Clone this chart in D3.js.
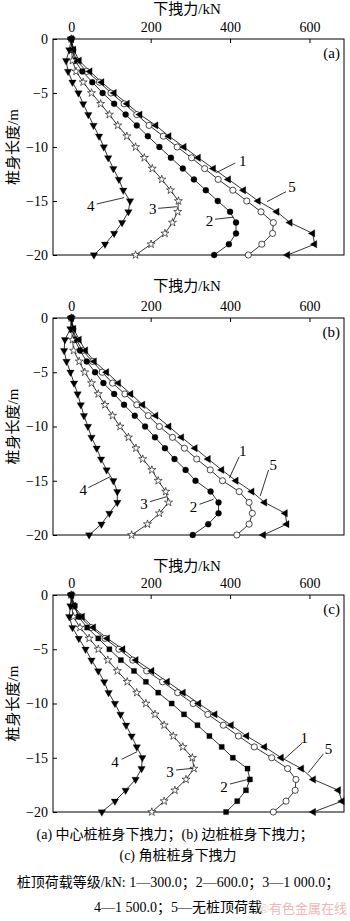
<!DOCTYPE html>
<html><head><meta charset="utf-8">
<script src="https://cdn.jsdelivr.net/npm/d3@7"></script>
<style>
html,body{margin:0;padding:0;background:#fff;}
svg{display:block;}
</style></head>
<body><svg id="chart" width="350" height="921"></svg>
<script>
// Depth below pile head (m), one reading per metre
const depth = [0,-1,-2,-3,-4,-5,-6,-7,-8,-9,-10,-11,-12,-13,-14,-15,-16,-17,-18,-19,-20];
const xTicks = [0,200,400,600];
const yTicks = [0,-5,-10,-15,-20];
const seriesNames = ["1","2","3","4","5"];
const panelTags = ["(a)","(b)","(c)"];

// (a) centre pile – downdrag force (kN) per series
const a1 = [0,4,13,39,71,100,133,165,196,232,267,303,336,370,407,442,478,509,507,480,446];
const a2 = [0,3,9,28,53,79,108,137,165,193,222,251,281,309,339,369,400,415,415,397,360];
const a3 = [0,1,3,12,30,51,74,96,117,140,162,184,204,228,250,270,268,255,236,201,162];
const a4 = [0,-5,-13,-8,3,18,30,43,56,70,82,93,106,120,131,148,144,128,108,85,57];
const a5 = [0,6,20,47,77,108,141,173,213,246,284,320,358,396,434,471,518,551,608,613,545];

// (b) edge pile
const b1 = [0,4,13,28,54,78,104,135,165,194,222,255,285,316,350,381,423,448,456,448,417];
const b2 = [0,3,9,22,39,60,81,108,133,160,186,211,236,260,288,313,351,371,371,345,306];
const b3 = [0,1,3,6,20,34,51,68,85,104,123,144,163,180,203,219,238,245,222,192,152];
const b4 = [0,-2,-16,-18,-12,-2,7,16,24,32,42,51,64,75,89,106,116,116,96,76,45];
const b5 = [0,6,20,36,58,89,119,150,180,213,246,278,312,345,379,415,455,487,539,543,484];

// (c) corner pile
const c1 = [0,4,22,50,85,120,155,190,230,268,307,344,383,421,461,505,545,566,564,541,509];
const c2 = [0,9,18,40,68,96,125,158,188,219,253,284,318,348,379,407,444,450,440,418,390];
const c3 = [0,1,5,22,45,68,92,116,141,165,188,211,234,257,281,305,309,289,261,234,203];
const c4 = [0,-2,-5,3,19,36,51,68,83,94,110,124,138,152,165,179,177,162,137,110,77];
const c5 = [0,6,28,56,91,130,163,203,242,282,321,362,403,442,487,529,580,610,673,682,610];

// Leader-label anchors in data units: [text value, text depth, line from (v,d), line to (v,d)]
const labelsA = [[432,-11.27,413,-11.48,365,-12.38],[348,-16.82,362,-16.69,408,-16.5],[205,-15.77,219,-15.68,266,-15.53],[49,-15.46,64,-15.28,133,-14.69],[556,-13.68,541,-14.14,493,-15.06]];
const labelsB = [[432,-12.3,423,-12.78,398,-14.77],[308,-17.39,323,-17.17,358,-16.71],[183,-17.17,198,-16.93,240,-16.47],[30,-15.85,43,-15.64,98,-14.63],[509,-13.55,497,-14.0,476,-16.4]];
const labelsC = [[587,-13.21,581,-13.67,534,-15.21],[385,-17.67,400,-17.42,446,-16.99],[249,-16.28,264,-16.13,308,-15.97],[110,-15.36,127,-15.14,166,-14.44],[648,-14.22,635,-14.65,597,-16.38]];

const serif = '"Liberation Serif","Times New Roman",serif';
const mixed = '"Liberation Serif","Noto Sans CJK SC",serif';

const panels = [
  {top:39,  bottom:255, titleY:14,  series:[a1,a2,a3,a4,a5], labels:labelsA, square:false},
  {top:318, bottom:535, titleY:291, series:[b1,b2,b3,b4,b5], labels:labelsB, square:false},
  {top:595, bottom:812, titleY:571, series:[c1,c2,c3,c4,c5], labels:labelsC, square:true}
];

const svg = d3.select('#chart');
svg.append('rect').attr('width',350).attr('height',921).attr('fill','#fff');

const left = 53, right = 344;
const x = d3.scaleLinear().domain([-46,687]).range([left,right]);

function markerStyle(i, square){
  // 1 open circle, 2 filled circle / square, 3 open star, 4 filled down-triangle, 5 filled left-triangle
  if(i===0) return {type:d3.symbolCircle, size:30, fill:'#fff', rot:0, sw:0.7};
  if(i===1) return square ? {type:d3.symbolSquare, size:26, fill:'#000', rot:0, sw:0.3}
                          : {type:d3.symbolCircle, size:28, fill:'#000', rot:0, sw:0.3};
  if(i===2) return {type:d3.symbolStar, size:20, fill:'#fff', rot:0, sw:0.6};
  if(i===3) return {type:d3.symbolTriangle, size:24, fill:'#000', rot:180, sw:0.3};
  return {type:d3.symbolTriangle, size:24, fill:'#000', rot:-90, sw:0.3};
}

panels.forEach((p, pi) => {
  const y = d3.scaleLinear().domain([-20,0]).range([p.bottom, p.top]);
  const g = svg.append('g');

  // axis titles
  g.append('text').attr('x',187).attr('y',p.titleY).attr('text-anchor','middle')
    .attr('font-family',mixed).attr('font-size',15).text('下拽力/kN');
  g.append('text')
    .attr('transform',`translate(13,${(p.top+p.bottom)/2}) rotate(-90)`)
    .attr('text-anchor','middle').attr('dominant-baseline','central')
    .attr('font-family',mixed).attr('font-size',15).text('桩身长度/m');

  // top axis
  const gx = g.append('g').attr('transform',`translate(0,${p.top})`)
    .call(d3.axisTop(x).tickValues(xTicks).tickSizeInner(-4).tickSizeOuter(0).tickPadding(7));
  gx.select('.domain').remove();
  gx.selectAll('text').attr('font-family',serif).attr('font-size',14).attr('fill','#000');
  gx.selectAll('line').attr('stroke','#000');

  // left axis
  const gy = g.append('g').attr('transform',`translate(${left},0)`)
    .call(d3.axisLeft(y).tickValues(yTicks).tickSizeInner(-4).tickSizeOuter(0).tickPadding(5)
      .tickFormat(d => d < 0 ? '\u2212' + Math.abs(d) : String(d)));
  gy.select('.domain').remove();
  gy.selectAll('text').attr('font-family',serif).attr('font-size',14).attr('fill','#000');
  gy.selectAll('line').attr('stroke','#000');

  // frame
  g.append('rect').attr('x',left).attr('y',p.top).attr('width',right-left).attr('height',p.bottom-p.top)
    .attr('fill','none').attr('stroke','#000').attr('stroke-width',1);

  // panel tag
  g.append('text').attr('x',340).attr('y',y(-1.3)).attr('text-anchor','end')
    .attr('dominant-baseline','central').attr('font-family',serif).attr('font-size',15).text(panelTags[pi]);

  const line = d3.line().x(d => x(d[0])).y(d => y(d[1]));

  p.series.forEach((vals) => {
    const pts = vals.map((v, k) => [v, depth[k]]);
    g.append('path').attr('d', line(pts)).attr('fill','none').attr('stroke','#000').attr('stroke-width',0.8);
  });
  p.series.forEach((vals, si) => {
    const st = markerStyle(si, p.square);
    const sym = d3.symbol().type(st.type).size(st.size);
    g.append('g').selectAll('path').data(vals.map((v,k)=>[v, depth[k]])).join('path')
      .attr('d', sym)
      .attr('transform', d => `translate(${x(d[0])},${y(d[1])}) rotate(${st.rot})`)
      .attr('fill', st.fill).attr('stroke','#000').attr('stroke-width',st.sw);
  });

  // leader labels
  p.labels.forEach((L, li) => {
    g.append('line').attr('x1',x(L[2])).attr('y1',y(L[3])).attr('x2',x(L[4])).attr('y2',y(L[5]))
      .attr('stroke','#000').attr('stroke-width',0.8);
    g.append('text').attr('x',x(L[0])).attr('y',y(L[1])).attr('text-anchor','middle')
      .attr('dominant-baseline','central').attr('font-family',serif).attr('font-size',15)
      .text(seriesNames[li]);
  });
});

// caption
const cap = svg.append('g').attr('font-family',mixed).attr('font-size',14).attr('fill','#000');
cap.append('text').attr('x',175).attr('y',839).attr('text-anchor','middle').text('(a) 中心桩桩身下拽力；(b) 边桩桩身下拽力；');
cap.append('text').attr('x',178).attr('y',860).attr('text-anchor','middle').text('(c) 角桩桩身下拽力');
cap.append('text').attr('x',178).attr('y',887).attr('text-anchor','middle').text('桩顶荷载等级/kN: 1—300.0；2—600.0；3—1 000.0；');
cap.append('text').attr('x',178).attr('y',912).attr('text-anchor','middle').text('4—1 500.0；5—无桩顶荷载');
svg.append('text').attr('x',347).attr('y',913).attr('text-anchor','end').attr('font-family',mixed)
  .attr('font-size',13).attr('fill','#eeaaaa').attr('opacity',0.85).text('©有色金属在线');
</script>
</body></html>
